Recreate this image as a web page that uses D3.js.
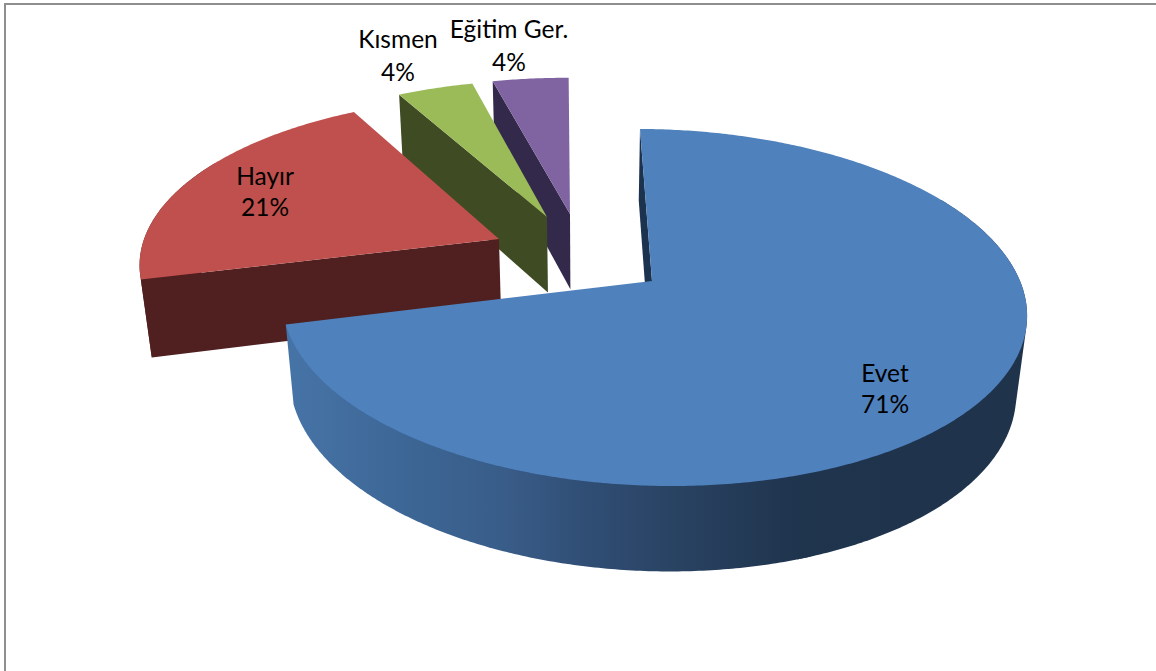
<!DOCTYPE html>
<html><head><meta charset="utf-8">
<script src="https://cdn.jsdelivr.net/npm/d3@7"></script>
<style>html,body{margin:0;padding:0;background:#fff;overflow:hidden}text{font-family:Lato,"Open Sans",sans-serif;fill:#000}</style>
</head><body><svg id="c" width="1156" height="671"></svg>
<script>
const categories = ["Evet","Hayır","Kısmen","Eğitim Ger."];
const values = [71,21,4,4];
const percentLabels = ["71%","21%","4%","4%"];
const topColors = ["#4f81bd","#c0504d","#9bbb59","#8064a2"];
const faceColors = ["#1c3350","#4f201f","#3f4b23","#33294a"];
const explodeX = [0,-0.4197,-0.2838,-0.2175];
const explodeZ = [0,-0.2494,-0.3876,-0.4069];
const labelX = [885,265,398,509];
const labelY = [374,177,40,30];
const labelY2 = [405,208,73,63];

const W=1156,H=671, cx=652, cy=281, R=368, S=17, B=174.6, K=0.1484, DEPTH=80, E=0.025, LOWER_DX=-1.5;
const svg=d3.select("#c");
const project=(x,z,lower)=>{
  const d=1-K*z+(lower?E:0);
  return [cx+(x*R+S*z)/d+(lower?LOWER_DX:0), cy+(z*B+(lower?DEPTH:0))/d];
};
const pie=d3.pie().sort(null).value(d=>d).startAngle(0.5*Math.PI/180).endAngle(360.5*Math.PI/180);
const arcs=pie(values);
const line=d3.line();
const ring=(i,a0,a1,lower)=>{
  const n=Math.max(2,Math.ceil((a1-a0)/0.01));
  return d3.range(n+1).map(k=>{
    const a=a0+(a1-a0)*k/n;
    return project(explodeX[i]+Math.sin(a),explodeZ[i]-Math.cos(a),lower);
  });
};
const grad=svg.append("defs").append("linearGradient").attr("id","wall").attr("gradientUnits","userSpaceOnUse")
  .attr("x1",288).attr("x2",1026).attr("y1",0).attr("y2",0);
[[0.01,"#4673a6"],[0.15,"#3d6796"],[0.29,"#395d89"],[0.42,"#2f4c72"],[0.545,"#284160"],[0.69,"#1f344d"],[1,"#1f334b"]]
  .forEach(s=>grad.append("stop").attr("offset",s[0]).attr("stop-color",s[1]));

svg.append("path").attr("d","M5,671V4H1156").attr("fill","none").attr("stroke","#8e8e8e").attr("stroke-width",2);

const WALL_FROM=60*Math.PI/180, WALL_TO=300*Math.PI/180, WALL_STEP=100*Math.PI/180, WALL_OVERLAP=2*Math.PI/180;
d3.range(categories.length).reverse().forEach(i=>{
  const a=arcs[i], g=svg.append("g");
  const topArc=ring(i,a.startAngle,a.endAngle,false), lowArc=ring(i,a.startAngle,a.endAngle,true);
  const apex=project(explodeX[i],explodeZ[i],false), lowApex=project(explodeX[i],explodeZ[i],true);
  const w0=Math.max(a.startAngle,WALL_FROM), w1=Math.min(a.endAngle,WALL_TO);
  if(w1>w0){
    d3.range(w0,w1,WALL_STEP).forEach(s=>{
      const e=Math.min(w1,s+WALL_STEP+WALL_OVERLAP);
      const hull=d3.polygonHull(ring(i,s,e,false).concat(ring(i,s,e,true)));
      g.append("path").attr("d",line(hull)+"Z").attr("fill",i===0?"url(#wall)":faceColors[i]);
    });
  }
  g.append("path").attr("d",line([topArc[0],apex,lowApex,lowArc[0]])+"Z").attr("fill",faceColors[i]);
  g.append("path").attr("d",line([apex].concat(topArc))+"Z").attr("fill",topColors[i]);
});

categories.forEach((c,i)=>{
  const t=svg.append("text").attr("text-anchor","middle").attr("font-size",24.5);
  t.append("tspan").attr("x",labelX[i]).attr("y",labelY[i]+8).text(c);
  t.append("tspan").attr("x",labelX[i]).attr("y",labelY2[i]+8).text(percentLabels[i]);
});
</script></body></html>
